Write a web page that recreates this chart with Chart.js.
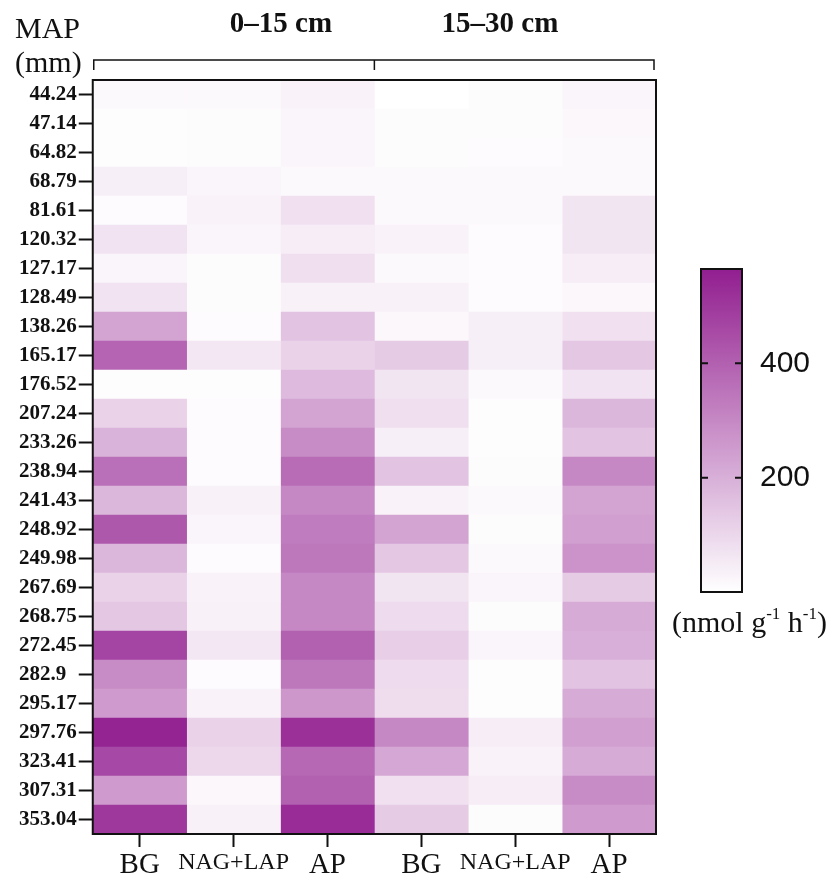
<!DOCTYPE html>
<html>
<head>
<meta charset="utf-8">
<script src="https://cdn.jsdelivr.net/npm/chart.js@4.4.1/dist/chart.umd.min.js"></script>
<style>
  html,body{margin:0;padding:0;background:#fff;}
  #wrap{position:relative;width:834px;height:879px;overflow:hidden;font-family:"Liberation Serif","Times New Roman",serif;color:#111;}
  #main{position:absolute;left:0;top:0;}
  #cbar{position:absolute;left:700px;top:255px;}
  .lbl{position:absolute;white-space:nowrap;line-height:1;}
  .lbl sup{font-size:17px;line-height:0;vertical-align:13px;}
</style>
</head>
<body>
<div id="wrap">
  <canvas id="main" width="834" height="879"></canvas>
  <canvas id="cbar" width="134" height="360"></canvas>
  <div class="lbl" style="left:15px;top:13px;font-size:30px">MAP</div>
  <div class="lbl" style="left:15px;top:47px;font-size:30px">(mm)</div>
  <div class="lbl" style="left:181px;width:200px;text-align:center;top:8px;font-size:29px;font-weight:bold">0–15 cm</div>
  <div class="lbl" style="left:400px;width:200px;text-align:center;top:8px;font-size:29px;font-weight:bold">15–30 cm</div>
  <div class="lbl" style="left:672px;top:607px;font-size:30px">(nmol g<sup>-1</sup> h<sup>-1</sup>)</div>
</div>
<script>
// MAP rows (mm), top to bottom
const mapLabels = ['44.24','47.14','64.82','68.79','81.61','120.32','127.17','128.49','138.26','165.17',
  '176.52','207.24','233.26','238.94','241.43','248.92','249.98','267.69','268.75','272.45',
  '282.9\u2002','295.17','297.76','323.41','307.31','353.04'];
const colLabels = ['BG','NAG+LAP','AP','BG','NAG+LAP','AP'];

// enzyme activity (nmol g-1 h-1), one array per column
const bg0_15     = [15,5,5,40,10,70,25,70,230,390,5,110,190,360,180,420,180,110,140,470,290,250,550,460,250,500];
const nagLap0_15 = [15,8,8,25,30,25,8,8,10,60,5,10,10,10,35,25,10,30,35,60,10,30,110,100,20,35];
const ap0_15     = [30,25,25,15,75,45,80,35,150,110,170,230,290,370,300,330,340,300,300,400,340,260,520,380,400,530];
const bg15_30    = [0,8,8,15,15,30,15,35,20,130,65,80,40,150,30,230,140,65,90,120,90,85,300,220,75,130];
const nagLap15_30= [8,8,10,15,15,10,10,10,40,40,15,5,5,8,15,8,15,25,8,25,5,5,45,30,45,8];
const ap15_30    = [25,20,15,15,65,65,45,20,75,140,70,180,150,300,230,240,270,130,210,200,150,210,240,210,290,250];
const columns = [bg0_15, nagLap0_15, ap0_15, bg15_30, nagLap15_30, ap15_30];

const cMax = 565;
const cbTicks = [200, 400];

function cellColor(v) {
  const t = Math.max(0, Math.min(1, v / cMax));
  const r = Math.round(255 + (146 - 255) * t);
  const g = Math.round(255 + (30 - 255) * t);
  const b = Math.round(255 + (144 - 255) * t);
  return `rgb(${r},${g},${b})`;
}

const serif = '"Liberation Serif","Times New Roman",serif';

const framePlugin = {
  id: 'frame',
  afterDatasetsDraw(chart) {
    const {ctx, chartArea: a} = chart;
    const x = chart.scales.x;
    ctx.save();
    ctx.strokeStyle = '#111';
    ctx.lineWidth = 2;
    ctx.strokeRect(a.left, a.top, a.right - a.left, a.bottom - a.top);
    // bracket over the two depths
    const l = x.getPixelForValue(0) + 1, m = x.getPixelForValue(3), r = x.getPixelForValue(6) - 2;
    ctx.lineWidth = 1.5;
    ctx.beginPath();
    ctx.moveTo(l, a.top - 10); ctx.lineTo(l, a.top - 20); ctx.lineTo(r, a.top - 20); ctx.lineTo(r, a.top - 10);
    ctx.moveTo(m, a.top - 20); ctx.lineTo(m, a.top - 10);
    ctx.stroke();
    ctx.restore();
  }
};

new Chart(document.getElementById('main'), {
  type: 'bar',
  data: {
    labels: mapLabels,
    datasets: columns.map((vals, c) => ({
      data: vals.map(() => [c, c + 1]),
      backgroundColor: vals.map(cellColor),
      borderWidth: 0,
      barPercentage: 1,
      categoryPercentage: 1,
      grouped: false
    }))
  },
  options: {
    indexAxis: 'y',
    responsive: false,
    animation: false,
    layout: {padding: {top: 80, right: 178, left: 17, bottom: -5}},
    plugins: {legend: {display: false}, tooltip: {enabled: false}},
    scales: {
      y: {
        offset: true,
        grid: {offset: false, drawOnChartArea: false, tickLength: 14, tickWidth: 2, tickColor: '#111'},
        border: {display: true, color: '#111', width: 2},
        ticks: {color: '#111', padding: 2, autoSkip: false, font: {family: serif, size: 21, weight: 'bold'}}
      },
      x: {
        type: 'linear', min: 0, max: 6,
        afterBuildTicks: s => { s.ticks = colLabels.map((_, i) => ({value: i + 0.5})); },
        grid: {drawOnChartArea: false, tickLength: 13, tickWidth: 2, tickColor: '#111'},
        border: {display: true, color: '#111', width: 2},
        ticks: {
          color: '#111', padding: 4, maxRotation: 0, autoSkip: false,
          callback: v => colLabels[Math.floor(v)],
          font: ctx => ({family: serif, size: colLabels[ctx.index] === 'NAG+LAP' ? 24 : 29, lineHeight: 1})
        }
      }
    }
  },
  plugins: [framePlugin]
});

// colour bar
const cbPlugin = {
  id: 'cbframe',
  afterDatasetsDraw(chart) {
    const {ctx, chartArea: a} = chart;
    const y = chart.scales.y;
    ctx.save();
    ctx.strokeStyle = '#111';
    ctx.lineWidth = 2;
    ctx.strokeRect(a.left, a.top, a.right - a.left, a.bottom - a.top);
    ctx.beginPath();
    cbTicks.forEach(v => {
      const p = y.getPixelForValue(v);
      ctx.moveTo(a.left, p); ctx.lineTo(a.left + 7, p);
      ctx.moveTo(a.right - 7, p); ctx.lineTo(a.right, p);
    });
    ctx.stroke();
    ctx.restore();
  }
};

new Chart(document.getElementById('cbar'), {
  type: 'bar',
  data: {
    labels: ['scale'],
    datasets: [{
      data: [[0, cMax]],
      backgroundColor: ctx => {
        const a = ctx.chart.chartArea;
        if (!a) return cellColor(cMax / 2);
        const g = ctx.chart.ctx.createLinearGradient(0, a.bottom, 0, a.top);
        for (let i = 0; i <= 10; i++) g.addColorStop(i / 10, cellColor(cMax * i / 10));
        return g;
      },
      borderWidth: 0,
      barPercentage: 1,
      categoryPercentage: 1
    }]
  },
  options: {
    responsive: false,
    animation: false,
    layout: {padding: {top: 14, bottom: 23, left: 1, right: 24}},
    plugins: {legend: {display: false}, tooltip: {enabled: false}},
    scales: {
      x: {display: false},
      y: {
        position: 'right', min: 0, max: cMax,
        afterBuildTicks: s => { s.ticks = cbTicks.map(v => ({value: v})); },
        afterFit: s => { s.width = 68; s.paddingTop = 0; s.paddingBottom = 0; },
        grid: {display: false, drawTicks: false},
        border: {display: false},
        ticks: {color: '#111', padding: 18, font: {family: '"Liberation Sans",Arial,sans-serif', size: 30}}
      }
    }
  },
  plugins: [cbPlugin]
});
</script>
</body>
</html>
